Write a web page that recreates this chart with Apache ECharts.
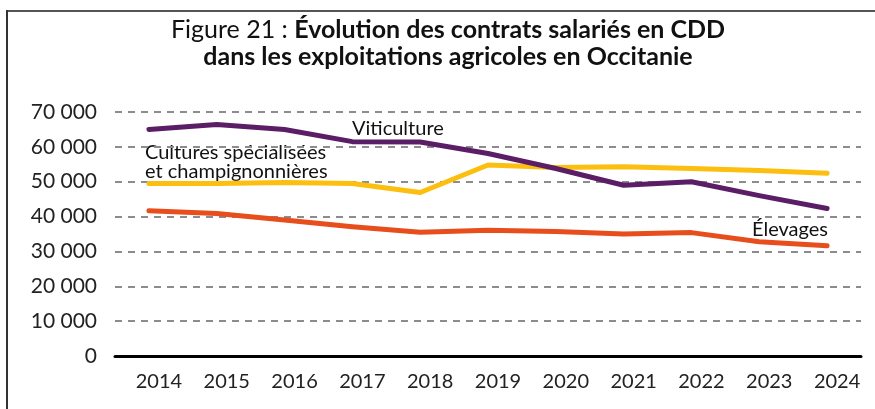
<!DOCTYPE html>
<html><head><meta charset="utf-8">
<script src="https://cdn.jsdelivr.net/npm/echarts@6/dist/echarts.min.js"></script>
<style>html,body{margin:0;padding:0;background:#fff}#c{width:875px;height:409px}</style>
</head><body><div id="c"></div>
<script>
const years = ['2014','2015','2016','2017','2018','2019','2020','2021','2022','2023','2024'];
const viticulture = [65000,66400,65000,61500,61400,58100,53800,49000,50000,46000,42300];
const cultures = [49500,49500,49800,49500,46900,54800,54100,54300,53800,53200,52400];
const elevages = [41700,40900,39000,37100,35500,36100,35700,35000,35400,32800,31600];
const yTicks = [0,10000,20000,30000,40000,50000,60000,70000];

const chart = echarts.init(document.getElementById('c'), null, {renderer:'canvas'});
const fmt = v => v === 0 ? '0' : String(v).replace(/\B(?=(\d{3})+(?!\d))/g, '\u202f');
const mk = (name, data, color) => ({
  name, type:'line', data, symbol:'none', smooth:false,
  lineStyle:{width:5, color, cap:'round', join:'round'}, itemStyle:{color}, z:3
});
chart.setOption({
  animation:false,
  title:{
    text:'{r|Figure 21 : }{b|Évolution des contrats salariés en CDD}\n{b|dans les exploitations agricoles en Occitanie}',
    left:448, top:16, textAlign:'center', padding:0,
    textStyle:{fontWeight:'normal', rich:{
      r:{fontFamily:'Lato', fontSize:25, fontWeight:'normal', color:'#111', lineHeight:27},
      b:{fontFamily:'Lato', fontSize:25, fontWeight:'bold', color:'#111', lineHeight:27}
    }}
  },
  grid:{left:115, right:14, top:112, bottom:53, containLabel:false},
  xAxis:{
    type:'category', data:years, boundaryGap:true,
    axisLine:{lineStyle:{color:'#000', width:3}},
    axisTick:{show:false},
    axisLabel:{color:'#222', fontFamily:'Lato', fontSize:20, margin:16, padding:[0,0,0,20]}
  },
  yAxis:{
    type:'value', min:yTicks[0], max:yTicks[yTicks.length-1], interval:10000,
    axisLine:{show:false}, axisTick:{show:false},
    axisLabel:{color:'#222', fontFamily:'Lato', fontSize:21, margin:18, formatter:fmt},
    splitLine:{lineStyle:{color:'#8c8c8c', width:2, type:[7,6]}}
  },
  series:[
    mk('Cultures spécialisées et champignonnières', cultures, '#fcbf10'),
    mk('Élevages', elevages, '#e84e1c'),
    mk('Viticulture', viticulture, '#5b1e66')
  ],
  graphic:[
    {type:'line', shape:{x1:7, y1:11, x2:875, y2:11}, style:{stroke:'#555', lineWidth:2}},
    {type:'line', shape:{x1:7, y1:10, x2:7, y2:409}, style:{stroke:'#333', lineWidth:2}},
    {type:'text', left:352, top:119, style:{text:'Viticulture', font:'20px Lato', fill:'#111'}},
    {type:'text', left:145, top:143, style:{text:'Cultures spécialisées\net champignonnières', font:'20px Lato', fill:'#111', lineHeight:19}},
    {type:'text', left:752, top:220, style:{text:'Élevages', font:'20px Lato', fill:'#111'}}
  ]
});
</script></body></html>
